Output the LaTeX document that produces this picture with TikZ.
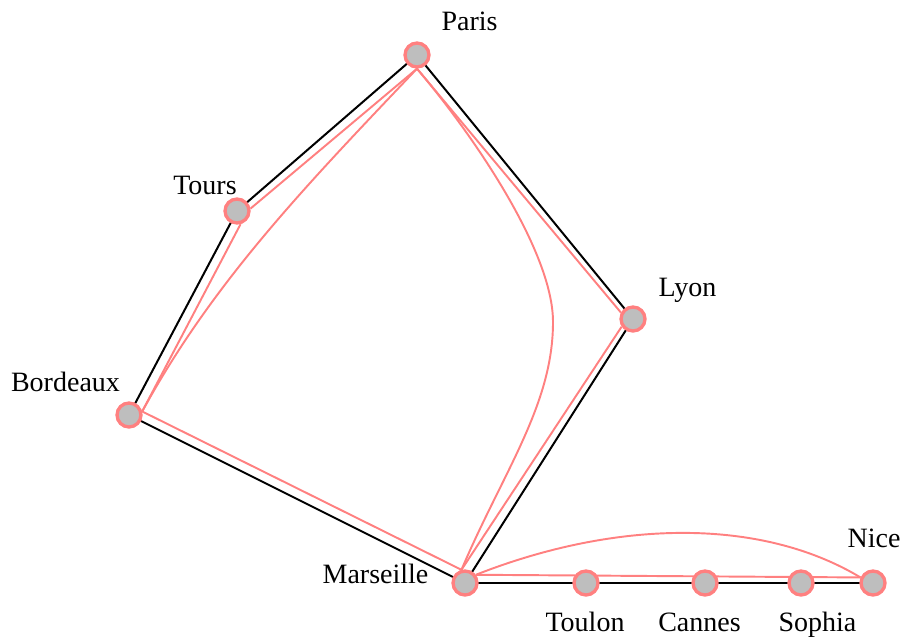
\documentclass[tikz,border=0pt]{standalone}
\usepackage{fontspec}
\setmainfont{Liberation Serif}
\pgfdeclarelayer{blklayer}
\pgfdeclarelayer{pnklayer}
\pgfsetlayers{blklayer,pnklayer,main}
\definecolor{pinkc}{RGB}{255,128,128}
\definecolor{grayc}{RGB}{190,190,190}
\begin{document}
\begin{tikzpicture}[x=0.75pt,y=-0.75pt,
  city/.style={circle,draw=pinkc,fill=grayc,line width=2.5pt,minimum size=18pt,inner sep=0pt},
  lbl/.style={font=\fontsize{21}{25}\selectfont,anchor=base,inner sep=0pt},
  blkedge/.style={line width=1.5pt,black},
  pnkedge/.style={line width=1.45pt,pinkc}]
\useasboundingbox (0,0) rectangle (904,639);
% cities
\node[city] (paris) at (417,55) {};
\node[city] (tours) at (237,211) {};
\node[city] (lyon) at (633,319) {};
\node[city] (bordeaux) at (129,415) {};
\node[city] (marseille) at (465,583) {};
\node[city] (toulon) at (586,583) {};
\node[city] (cannes) at (705,583) {};
\node[city] (sophia) at (801,583) {};
\node[city] (nice) at (873,583) {};
% labels
\node[lbl] (lparis) at (469.5,31) {Paris};
\node[lbl] (ltours) at (205,194) {Tours};
\node[lbl] (llyon) at (687.5,296) {Lyon};
\node[lbl] (lbordeaux) at (65.5,391) {Bordeaux};
\node[lbl] (lmarseille) at (375.5,583) {Marseille};
\node[lbl] (ltoulon) at (585,631) {Toulon};
\node[lbl] (lcannes) at (699.5,631) {Cannes};
\node[lbl] (lsophia) at (817.5,631) {Sophia};
\node[lbl] (lnice) at (874,547) {Nice};
% black network
\begin{pgfonlayer}{blklayer}
\draw[blkedge] (paris.center) -- (tours.center);
\draw[blkedge] (tours.center) -- (bordeaux.center);
\draw[blkedge] (bordeaux.center) -- (marseille.center);
\draw[blkedge] (paris.center) -- (lyon.center);
\draw[blkedge] (lyon.center) -- (marseille.center);
\draw[blkedge] (marseille.center) -- (toulon.center);
\draw[blkedge] (toulon.center) -- (cannes.center);
\draw[blkedge] (cannes.center) -- (sophia.center);
\draw[blkedge] (sophia.center) -- (nice.center);
\end{pgfonlayer}
% pink paths
\begin{pgfonlayer}{pnklayer}
\draw[pnkedge] (paris.south) -- (tours.10);
\draw[pnkedge] (tours.-75) -- (bordeaux.15);
\draw[pnkedge] (bordeaux.15) .. controls (213.5,281) and (306.5,185) .. (paris.south);
\draw[pnkedge] (paris.south) -- (lyon.152);
\draw[pnkedge] (lyon.214) -- (marseille.105);
\draw[pnkedge] (bordeaux.15) -- (marseille.105);
\draw[pnkedge] (paris.south) .. controls (470,131) and (553,250) .. (553,322)
   .. controls (553,405) and (503,472) .. (marseille.105);
\draw[pnkedge] (marseille.37) -- (nice.156);
\draw[pnkedge] (marseille.37) .. controls (615,520) and (760,517) .. (nice.156);
\end{pgfonlayer}
\end{tikzpicture}
\end{document}
